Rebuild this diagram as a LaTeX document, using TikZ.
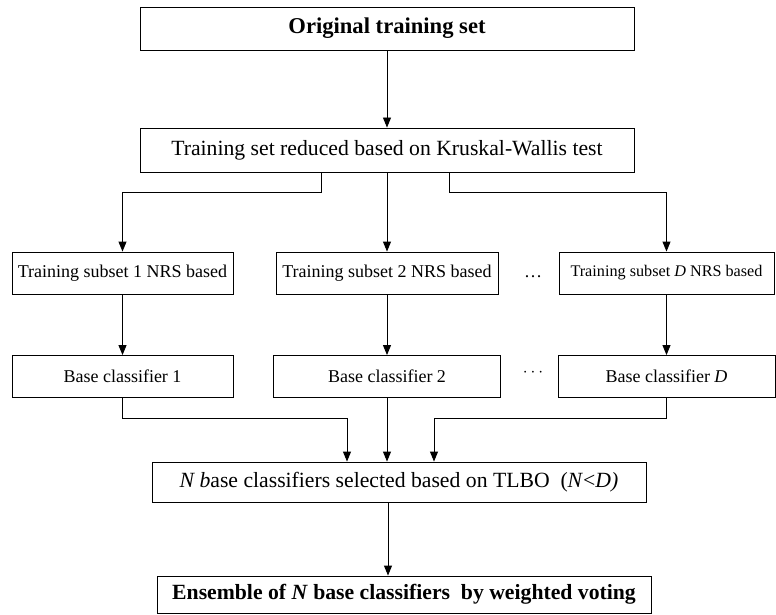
\documentclass[tikz,border=0pt]{standalone}
\usepackage{fontspec}
\setmainfont{Liberation Serif}
\usepackage{tikz}
\usetikzlibrary{positioning, arrows.meta, calc}

\begin{document}
\begin{tikzpicture}[x=1pt, y=-1pt,
            box/.style={rectangle, draw, line width=0.9pt, inner sep=0pt,
                        align=center, font=\fontsize{21.7}{26}\selectfont},
            subbox/.style={box, minimum height=42pt,
                        font=\fontsize{18}{22}\selectfont},
            arr/.style={-{Triangle[length=10pt, width=8pt]}, line width=0.9pt}
          ]
          \useasboundingbox (0,0) rectangle (776,615);
          % top of the flow
          \node[box, minimum width=494pt, minimum height=43pt,
                font=\fontsize{22.6}{27}\selectfont\bfseries] (orig) at (387,28.5)
                {Original training set};
          \node[box, minimum width=494pt, minimum height=44pt] (kw) at (387,150)
                {Training set reduced based on Kruskal-Wallis test};
          % subsets and base classifiers
          \node[subbox, minimum width=221pt] (sub1) at (122.5,273) {Training subset 1 NRS based};
          \node[subbox, minimum width=222pt] (sub2) at (387,273) {Training subset 2 NRS based};
          \node[subbox, minimum width=215pt, font=\fontsize{16.2}{20}\selectfont] (sub3) at (666.5,273)
                {Training subset \textit{D} NRS based};
          \node[subbox, minimum width=221pt] (base1) at (122.5,376.5) {Base classifier 1};
          \node[subbox, minimum width=227pt] (base2) at (387,376.5) {Base classifier 2};
          \node[subbox, minimum width=217pt] (base3) at (666.5,376.5) {Base classifier \textit{D}};
          \node[font=\fontsize{18}{22}\selectfont] (dots1) at (533,277) {\ldots};
          \node[font=\fontsize{18}{22}\selectfont] (dots2) at (533,373) {$\cdots$};
          % selection and ensemble
          \node[box, minimum width=494pt, minimum height=40pt] (nsel) at (399,482)
                {\textit{N b}ase classifiers selected based on TLBO\ \ (\textit{N}<\textit{D)}};
          \node[box, minimum width=494pt, minimum height=37pt,
                font=\fontsize{21.7}{26}\selectfont\bfseries] (ens) at (404,594.5)
                {Ensemble of \textit{N} base classifiers\ \ by weighted voting};
          \draw[arr] (orig) -- (kw);
          \draw[arr] ([xshift=-66pt]kw.south) -- ++(0,20) -| (sub1.north);
          \draw[arr] (kw) -- (sub2);
          \draw[arr] ([xshift=62pt]kw.south) -- ++(0,20) -| (sub3.north);
          \foreach \i in {1,2,3}
            \draw[arr] (sub\i.south) -- (base\i.north);
          \draw[arr] (base1.south) -- ++(0,20) -| ([xshift=-52pt]nsel.north);
          \draw[arr] (base2.south) -- (base2.south |- nsel.north);
          \draw[arr] (base3.south) -- ++(0,20) -| ([xshift=35pt]nsel.north);
          \draw[arr] ([xshift=-11pt]nsel.south) -- ([xshift=-16pt]ens.north);
        \end{tikzpicture}
\end{document}
